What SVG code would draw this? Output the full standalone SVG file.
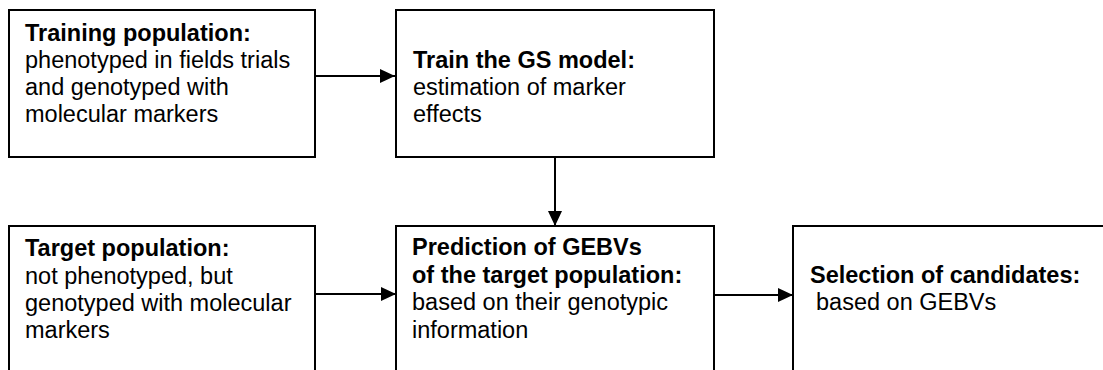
<svg xmlns="http://www.w3.org/2000/svg" width="1103" height="370" viewBox="0 0 1103 370">
<style>
.box{fill:#fff;stroke:#000;stroke-width:2}
.t{font-family:"Liberation Sans",Arial,sans-serif;font-size:23.5px;fill:#000}
.b{font-weight:bold}
.c{stroke:#000;stroke-width:2;fill:none}
</style>
<defs>
<marker id="ah" markerUnits="userSpaceOnUse" markerWidth="16" markerHeight="14" refX="15" refY="7" orient="auto">
<path d="M0,0 L15,7 L0,14 z" fill="#000"/>
</marker>
</defs>
<rect width="1103" height="370" fill="#fff"/>
<g id="connectors">
<line class="c" x1="315" y1="76" x2="395" y2="76" marker-end="url(#ah)"/>
<line class="c" x1="555" y1="157" x2="555" y2="226" marker-end="url(#ah)"/>
<line class="c" x1="315" y1="294" x2="396" y2="294" marker-end="url(#ah)"/>
<line class="c" x1="714" y1="295" x2="793" y2="295" marker-end="url(#ah)"/>
</g>
<g id="training">
<rect class="box" x="9" y="10" width="306" height="147"/>
<text class="t b" x="25" y="41">Training population:</text>
<text class="t" x="25" y="68">phenotyped in fields trials</text>
<text class="t" x="25" y="95">and genotyped with</text>
<text class="t" x="25" y="122">molecular markers</text>
</g>
<g id="train-model">
<rect class="box" x="396" y="10" width="318" height="147"/>
<text class="t b" x="413" y="68">Train the GS model:</text>
<text class="t" x="413" y="95">estimation of marker</text>
<text class="t" x="413" y="122">effects</text>
</g>
<g id="target">
<rect class="box" x="9" y="226" width="306" height="150"/>
<text class="t b" x="25" y="256">Target population:</text>
<text class="t" x="25" y="284">not phenotyped, but</text>
<text class="t" x="25" y="311">genotyped with molecular</text>
<text class="t" x="25" y="338">markers</text>
</g>
<g id="prediction">
<rect class="box" x="396" y="226" width="318" height="150"/>
<text class="t b" x="412" y="255">Prediction of GEBVs</text>
<text class="t b" x="412" y="283">of the target population:</text>
<text class="t" x="412" y="310">based on their genotypic</text>
<text class="t" x="412" y="338">information</text>
</g>
<g id="selection">
<rect class="box" x="793" y="226" width="320" height="150"/>
<text class="t b" x="810" y="283">Selection of candidates:</text>
<text class="t" x="816" y="310">based on GEBVs</text>
</g>
</svg>
